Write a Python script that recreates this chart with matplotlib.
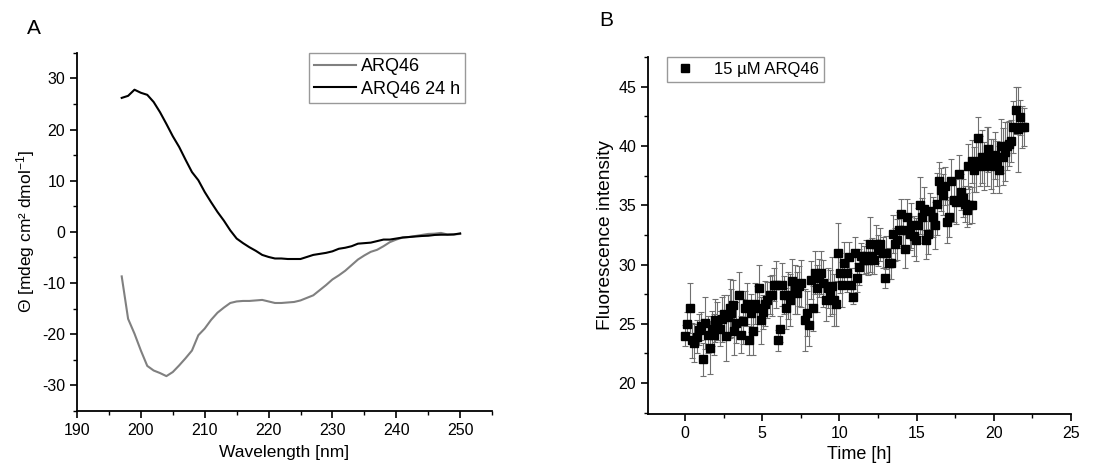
import matplotlib

matplotlib.use("Agg")
import matplotlib.pyplot as plt
from matplotlib.ticker import MultipleLocator

plt.rcParams["font.family"] = ["Liberation Sans", "DejaVu Sans"]
plt.rcParams["mathtext.fontset"] = "custom"
plt.rcParams["mathtext.rm"] = "Liberation Sans"
plt.rcParams["mathtext.it"] = "Liberation Sans"
plt.rcParams["axes.unicode_minus"] = False

# Panel A: CD spectra
wavelength = list(range(197, 251))
arq46 = [
    -8.7, -17.0, -19.9, -23.2, -26.2, -27.1, -27.6, -28.2, -27.4, -26.1,
    -24.7, -23.2, -20.2, -18.9, -17.2, -15.8, -14.8, -13.9, -13.6, -13.5,
    -13.5, -13.4, -13.3, -13.6, -13.9, -13.9, -13.8, -13.7, -13.4, -12.9,
    -12.4, -11.4, -10.4, -9.3, -8.5, -7.6, -6.5, -5.4, -4.6, -3.9,
    -3.5, -2.8, -2.0, -1.5, -1.1, -1.0, -0.8, -0.6, -0.4, -0.35,
    -0.2, -0.5, -0.5, -0.4,
]
arq46_24h = [
    26.2, 26.6, 27.8, 27.2, 26.8, 25.4, 23.4, 21.1, 18.7, 16.6,
    14.1, 11.7, 10.1, 7.8, 5.8, 3.9, 2.2, 0.3, -1.3, -2.2,
    -3.0, -3.7, -4.5, -4.9, -5.2, -5.2, -5.3, -5.3, -5.3, -4.9,
    -4.5, -4.3, -4.1, -3.8, -3.3, -3.1, -2.8, -2.3, -2.2, -2.1,
    -1.8, -1.5, -1.5, -1.3, -1.1, -1.0, -0.9, -0.8, -0.75, -0.6,
    -0.55, -0.55, -0.5, -0.3,
]

# Panel B: fluorescence over time
time_h = [
    0.0, 0.15, 0.3, 0.45, 0.6, 0.75, 0.9, 1.05, 1.17, 1.3,
    1.5, 1.6, 1.73, 1.86, 1.97, 2.1, 2.25, 2.38, 2.5, 2.68,
    2.79, 2.9, 3.0, 3.1, 3.2, 3.33, 3.48, 3.6, 3.76, 3.89,
    4.02, 4.15, 4.3, 4.4, 4.52, 4.67, 4.8, 4.95, 5.08, 5.2,
    5.34, 5.49, 5.62, 5.75, 5.88, 6.0, 6.14, 6.27, 6.42, 6.57,
    6.68, 6.83, 6.96, 7.1, 7.26, 7.39, 7.52, 7.76, 7.87, 8.0,
    8.15, 8.28, 8.4, 8.55, 8.69, 8.84, 8.97, 9.1, 9.25, 9.38,
    9.5, 9.64, 9.77, 9.92, 10.03, 10.18, 10.3, 10.46, 10.59, 10.72,
    10.85, 11.0, 11.13, 11.28, 11.43, 11.58, 11.71, 11.84, 11.97, 12.12,
    12.25, 12.4, 12.5, 12.66, 12.8, 12.94, 13.05, 13.2, 13.33, 13.48,
    13.6, 13.74, 13.87, 14.02, 14.13, 14.28, 14.41, 14.56, 14.67, 14.82,
    14.95, 15.1, 15.21, 15.36, 15.49, 15.64, 15.77, 15.9, 16.05, 16.18,
    16.33, 16.46, 16.59, 16.72, 16.85, 16.98, 17.11, 17.26, 17.41, 17.55,
    17.72, 17.85, 17.98, 18.11, 18.24, 18.35, 18.41, 18.56, 18.59, 18.72,
    18.84, 19.0, 19.1, 19.23, 19.36, 19.53, 19.64, 19.79, 19.92, 20.05,
    20.18, 20.31, 20.44, 20.57, 20.7, 20.83, 20.96, 21.09, 21.22, 21.41,
    21.54, 21.69, 21.82, 21.97,
]
intensity = [
    24.0, 25.0, 26.3, 23.6, 23.4, 23.9, 24.5, 24.8, 22.0, 25.1,
    24.1, 23.0, 24.6, 24.1, 25.3, 25.2, 24.6, 25.4, 25.8, 24.0,
    25.6, 26.3, 25.9, 26.6, 24.4, 25.1, 27.4, 24.1, 25.2, 26.3,
    26.7, 23.6, 25.9, 24.4, 26.7, 26.3, 28.0, 25.3, 26.0, 26.7,
    27.0, 27.4, 27.4, 28.3, 28.3, 23.6, 24.6, 28.3, 27.4, 26.3,
    27.4, 27.0, 28.6, 27.9, 27.6, 28.2, 28.4, 25.3, 25.9, 24.9,
    28.7, 26.3, 29.3, 28.0, 28.9, 29.3, 28.4, 27.0, 28.0, 27.6,
    28.2, 27.0, 26.7, 31.0, 29.3, 28.3, 30.1, 29.3, 30.6, 28.3,
    27.3, 31.0, 28.9, 29.8, 30.7, 30.4, 30.7, 30.4, 31.7, 30.7,
    30.4, 31.7, 31.2, 31.7, 31.0, 28.9, 31.0, 30.1, 30.1, 32.6,
    31.7, 32.1, 32.9, 34.3, 32.9, 31.3, 34.0, 32.6, 33.3, 32.4,
    32.1, 33.3, 35.0, 34.0, 34.7, 32.1, 32.6, 34.5, 34.0, 33.3,
    35.1, 37.0, 36.3, 35.9, 36.6, 33.6, 34.0, 37.0, 35.4, 35.3,
    37.6, 36.1, 35.6, 35.1, 34.6, 38.3, 35.0, 35.0, 38.7, 38.0,
    38.3, 40.7, 38.7, 39.1, 38.3, 39.1, 39.7, 38.5, 38.3, 39.2,
    38.5, 38.0, 40.0, 39.1, 39.5, 40.0, 40.2, 40.4, 41.6, 43.0,
    41.4, 42.4, 41.6, 41.6,
]
intensity_err = [
    0.9, 1.0, 2.1, 1.5, 1.6, 1.4, 1.3, 1.2, 1.4, 2.2,
    1.6, 2.2, 1.5, 1.7, 1.8, 1.6, 1.5, 1.9, 1.6, 2.1,
    1.8, 2.5, 2.0, 2.1, 2.0, 1.7, 2.0, 1.6, 1.9, 1.5,
    1.7, 1.2, 1.6, 2.0, 1.7, 1.9, 2.0, 2.0, 1.4, 1.9,
    1.5, 1.6, 1.7, 1.4, 2.0, 0.9, 1.1, 1.8, 1.6, 1.7,
    2.0, 2.2, 1.9, 2.1, 1.8, 1.7, 2.0, 2.6, 1.9, 1.8,
    1.6, 1.9, 1.8, 2.0, 1.6, 1.8, 2.0, 1.8, 1.7, 1.9,
    2.4, 2.2, 1.9, 2.5, 1.7, 1.9, 1.8, 1.6, 1.3, 1.4,
    0.6, 1.3, 1.2, 1.5, 1.1, 1.2, 1.4, 1.3, 2.3, 1.5,
    1.2, 1.6, 1.3, 1.4, 1.3, 0.9, 1.4, 1.3, 1.3, 1.6,
    1.4, 1.7, 1.5, 1.2, 1.3, 1.6, 1.5, 1.4, 1.9, 1.7,
    1.8, 1.5, 2.4, 1.6, 1.8, 1.6, 1.7, 1.5, 1.7, 2.0,
    2.6, 1.6, 1.8, 1.7, 1.6, 1.8, 1.7, 1.9, 1.8, 1.9,
    1.6, 1.5, 1.6, 1.5, 1.4, 1.9, 1.6, 1.5, 1.8, 1.9,
    2.2, 1.7, 2.1, 2.2, 2.0, 2.5, 1.9, 2.1, 2.3, 2.0,
    1.9, 2.0, 2.3, 2.4, 2.5, 2.0, 1.9, 1.8, 2.2, 2.0,
    3.6, 1.5, 1.8, 1.6,
]


def style_axes(ax):
    ax.spines["top"].set_visible(False)
    ax.spines["right"].set_visible(False)
    for side in ("left", "bottom"):
        ax.spines[side].set_linewidth(1.3)
    ax.tick_params(which="major", direction="out", length=5, width=1.2, labelsize=11.5)
    ax.tick_params(which="minor", direction="out", length=3, width=1.0)


fig = plt.figure(figsize=(11.05, 4.68), dpi=100)

# Panel A
ax1 = fig.add_axes([0.0697, 0.122, 0.3756, 0.765])
ax1.plot(wavelength, arq46, color="#808080", linewidth=1.5, label="ARQ46")
ax1.plot(wavelength, arq46_24h, color="black", linewidth=1.5, label="ARQ46 24 h")
ax1.set_xlim(190, 255)
ax1.set_ylim(-35, 35)
ax1.xaxis.set_major_locator(MultipleLocator(10))
ax1.xaxis.set_minor_locator(MultipleLocator(5))
ax1.yaxis.set_major_locator(MultipleLocator(10))
ax1.yaxis.set_minor_locator(MultipleLocator(5))
ax1.set_xticks(range(190, 251, 10))
style_axes(ax1)
ax1.set_xlabel("Wavelength [nm]", fontsize=12.5, labelpad=5)
ax1.set_ylabel("Θ [mdeg cm² dmol$^{-1}$]", fontsize=12.5, labelpad=4)
leg1 = ax1.legend(loc="upper right", bbox_to_anchor=(0.935, 1.0), fontsize=13,
                  frameon=True, fancybox=False, edgecolor="#808080",
                  handlelength=2.3, handletextpad=0.25, borderpad=0.3,
                  labelspacing=0.3, borderaxespad=0.0)
leg1.get_frame().set_linewidth(1.0)
fig.text(0.024, 0.928, "A", fontsize=15)

# Panel B
ax2 = fig.add_axes([0.5864, 0.1154, 0.3828, 0.763])
points = ax2.errorbar(time_h, intensity, yerr=intensity_err, fmt="s", color="black",
                      markersize=5.5, ecolor="#707070", elinewidth=0.8, capsize=2.5,
                      capthick=0.8)
ax2.set_xlim(-2.4, 25)
ax2.set_ylim(17.4, 47.5)
ax2.xaxis.set_major_locator(MultipleLocator(5))
ax2.xaxis.set_minor_locator(MultipleLocator(2.5))
ax2.yaxis.set_major_locator(MultipleLocator(5))
ax2.yaxis.set_minor_locator(MultipleLocator(2.5))
ax2.set_xticks(range(0, 26, 5))
style_axes(ax2)
ax2.set_xlabel("Time [h]", fontsize=13, labelpad=4)
ax2.set_ylabel("Fluorescence intensity", fontsize=13.8, labelpad=3)
leg2 = ax2.legend([points[0]], ["15 µM ARQ46"], loc="upper left",
                  bbox_to_anchor=(0.045, 1.0), fontsize=12,
                  frameon=True, fancybox=False, edgecolor="#808080",
                  handlelength=1.5, handletextpad=1.0, borderpad=0.3,
                  borderaxespad=0.0)
leg2.get_frame().set_linewidth(1.0)
fig.text(0.542, 0.945, "B", fontsize=15)

fig.savefig("out.png", dpi=100)
